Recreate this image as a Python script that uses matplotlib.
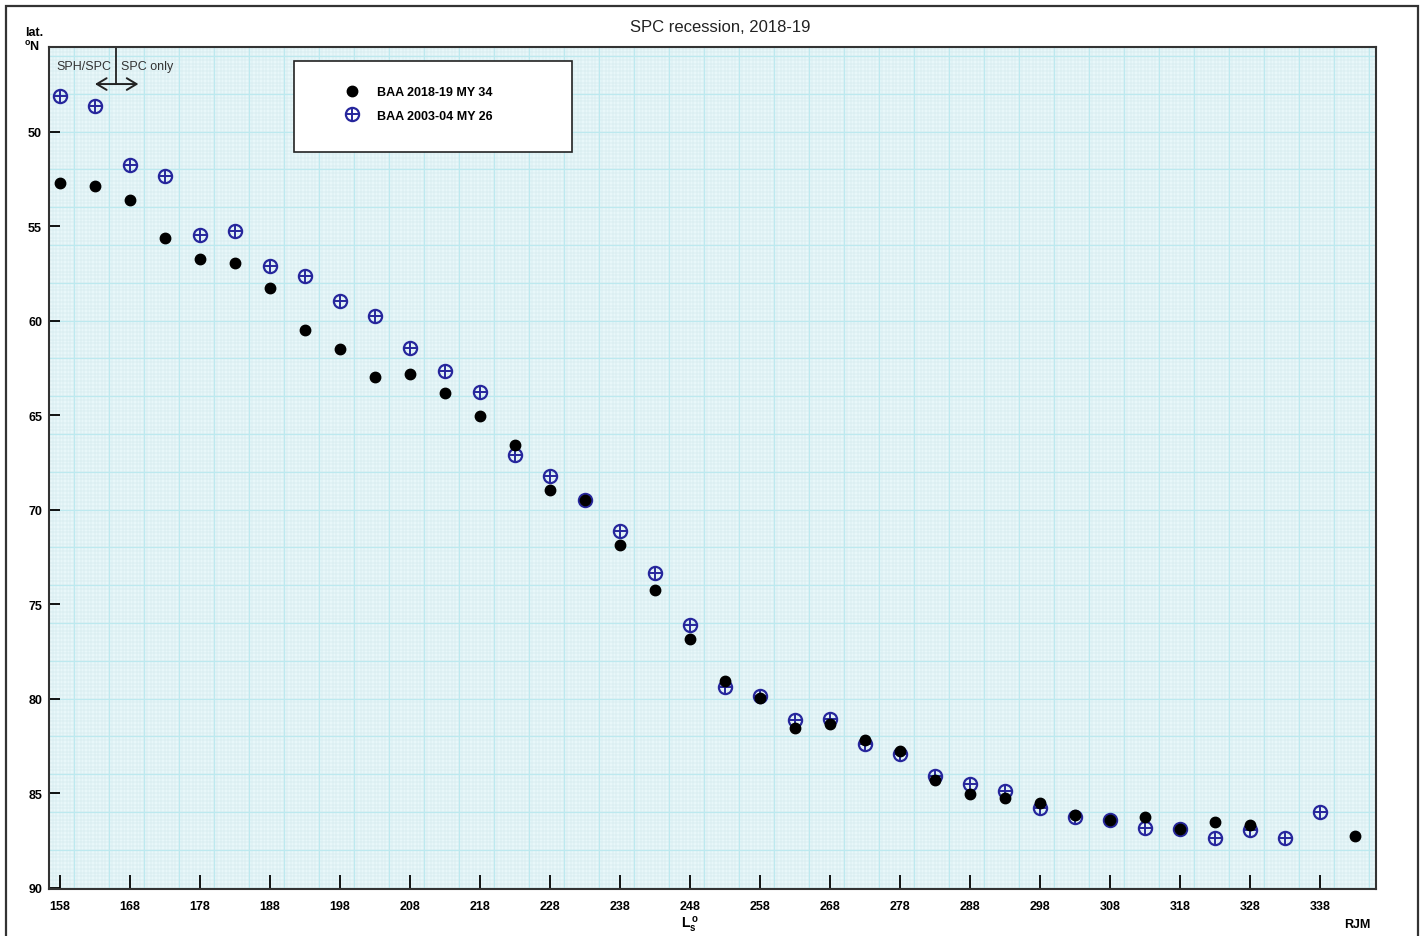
#!/usr/bin/env python
"""
SPC recession 2018-19 vs 2003-04, graph paper style
"""

import numpy as np
import matplotlib
matplotlib.use('Agg')
import matplotlib.pyplot as plt
import matplotlib.patches as mpa
import matplotlib.lines as mlines

# solar longitude, deg
ls_2018 = [158, 163, 168, 173, 178, 183, 188, 193, 198, 203, 208, 213, 218,
           223, 228, 233, 238, 243, 248, 253, 258, 263, 268, 273, 278, 283,
           288, 293, 298, 303, 308, 313, 318, 323, 328, 343]
lat_2018 = [52.73, 52.87, 53.63, 55.62, 56.74, 56.96, 58.25, 60.5, 61.51,
            62.98, 62.82, 63.84, 65.04, 66.56, 68.96, 69.47, 71.85, 74.23,
            76.83, 79.05, 79.98, 81.57, 81.34, 82.17, 82.75, 84.29, 85.04,
            85.27, 85.52, 86.14, 86.43, 86.24, 86.91, 86.5, 86.68, 87.25]

ls_2003 = [158, 163, 168, 173, 178, 183, 188, 193, 198, 203, 208, 213, 218,
           223, 228, 233, 238, 243, 248, 253, 258, 263, 268, 273, 278, 283,
           288, 293, 298, 303, 308, 313, 318, 323, 328, 333, 338]
lat_2003 = [48.13, 48.66, 51.76, 52.33, 55.48, 55.27, 57.09, 57.65, 58.94,
            59.73, 61.44, 62.64, 63.76, 67.1, 68.2, 69.47, 71.13, 73.33,
            76.12, 79.37, 79.87, 81.11, 81.09, 82.4, 82.93, 84.07, 84.51,
            84.9, 85.8, 86.24, 86.4, 86.86, 86.91, 87.35, 86.95, 87.39, 86.01]

xticks = list(range(158, 339, 10))
yticks = list(range(50, 91, 5))

label_2018 = 'BAA 2018-19 MY 34'
label_2003 = 'BAA 2003-04 MY 26'

params = {
        'font.family': ['Liberation Sans', 'DejaVu Sans'],
        'font.size': 9,
        'mathtext.fontset': 'custom',
        'mathtext.rm': 'Liberation Sans',
        'mathtext.bf': 'Liberation Sans:bold',
        }
matplotlib.rcParams.update(params)

W, H = 1426, 937
fig = plt.figure(figsize=(W/100, H/100), dpi=100)
ax = fig.add_axes([49/W, 1 - 890/H, (1376 - 49)/W, (890 - 48)/H])

ax.set_xlim(156.43, 346.0)
ax.set_ylim(90.07, 45.52)
ax.set_facecolor('#e8f7f9')

# graph paper
for xv in np.arange(150, 350, 0.5):
    ax.axvline(xv, color='#cfe6e9', lw=0.35, zorder=0)
for yv in np.arange(44, 92, 0.2):
    ax.axhline(yv, color='#cfe6e9', lw=0.35, zorder=0)
for xv in np.arange(150, 350, 5):
    ax.axvline(xv, color='#bde9ef', lw=0.9, zorder=0)
for yv in np.arange(44, 92, 2):
    ax.axhline(yv, color='#bde9ef', lw=0.9, zorder=0)

blue = '#26269c'
ax.plot(ls_2003, lat_2003, linestyle='None', marker='o', ms=9.5,
        mfc='none', mec=blue, mew=1.6, zorder=3)
ax.plot(ls_2003, lat_2003, linestyle='None', marker='+', ms=9.5,
        mec=blue, mew=1.4, zorder=3)
ax.plot(ls_2018, lat_2018, linestyle='None', marker='o', ms=7.5,
        mfc='black', mec='black', zorder=4)

ax.set_xticks(xticks)
ax.set_yticks(yticks)
ax.tick_params(axis='x', direction='in', length=10, width=1.3, pad=8,
               labelsize=9)
ax.tick_params(axis='y', direction='in', length=8, width=1.3, pad=5,
               labelsize=9)
for lab in ax.get_xticklabels() + ax.get_yticklabels():
    lab.set_fontweight('bold')
for sp in ax.spines.values():
    sp.set_linewidth(1.5)
    sp.set_color('#333333')

# SPH/SPC boundary marker
ax.plot([166, 166], [45.52, 47.48], color='#222222', lw=1.3, clip_on=False)
ax.annotate('', xy=(163, 47.48), xytext=(169.2, 47.48),
            arrowprops=dict(arrowstyle='<->,head_length=0.5,head_width=0.3',
                            color='#222222', lw=1.4,
                            shrinkA=0, shrinkB=0, mutation_scale=14))
ax.text(165.4, 46.5, 'SPH/SPC', ha='right', va='center', color='#333333')
ax.text(166.7, 46.5, 'SPC only', ha='left', va='center', color='#333333')

# legend box
box = mpa.Rectangle((0.1846, 0.8753), 0.2094, 0.1081, transform=ax.transAxes,
                    facecolor='white', edgecolor='#222222', lw=1.2, zorder=5)
ax.add_patch(box)
h18 = mlines.Line2D([], [], linestyle='None', marker='o', ms=7.5,
                    mfc='black', mec='black')
h03a = mlines.Line2D([], [], linestyle='None', marker='o', ms=9.5,
                     mfc='none', mec=blue, mew=1.6)
h03b = mlines.Line2D([], [], linestyle='None', marker='+', ms=9.5,
                     mec=blue, mew=1.4)
leg = ax.legend(handles=[h18, (h03a, h03b)], labels=[label_2018, label_2003],
                loc='center left', bbox_to_anchor=(0.2235, 0.9325),
                frameon=False, handlelength=1.0, handletextpad=1.5,
                labelspacing=0.95, borderpad=0, borderaxespad=0,
                prop={'weight': 'bold', 'size': 9})
leg.set_zorder(6)

# outer texts
fig.text(720/W, 1 - 28/H, 'SPC recession, 2018-19', ha='center', va='center',
         fontsize=12, color='#222222')
fig.text(25/W, 1 - 33/H, 'lat.', ha='left', va='center', fontweight='bold')
fig.text(24/W, 1 - 47/H, r'$\mathbf{^{o}N}$', ha='left', va='center')
fig.text(690/W, 1 - 925/H, r'$\mathbf{L_s^{\,o}}$', ha='center', va='center',
         fontsize=10)
fig.text(1357/W, 1 - 925/H, 'RJM', ha='center', va='center',
         fontweight='bold')

frame = mpa.Rectangle((6/W, -0.05), 1412/W, 1.05 - 7/H,
                      transform=fig.transFigure, fill=False,
                      edgecolor='#333333', lw=1.6)
fig.patches.append(frame)

plt.savefig('out.png', dpi=100)
